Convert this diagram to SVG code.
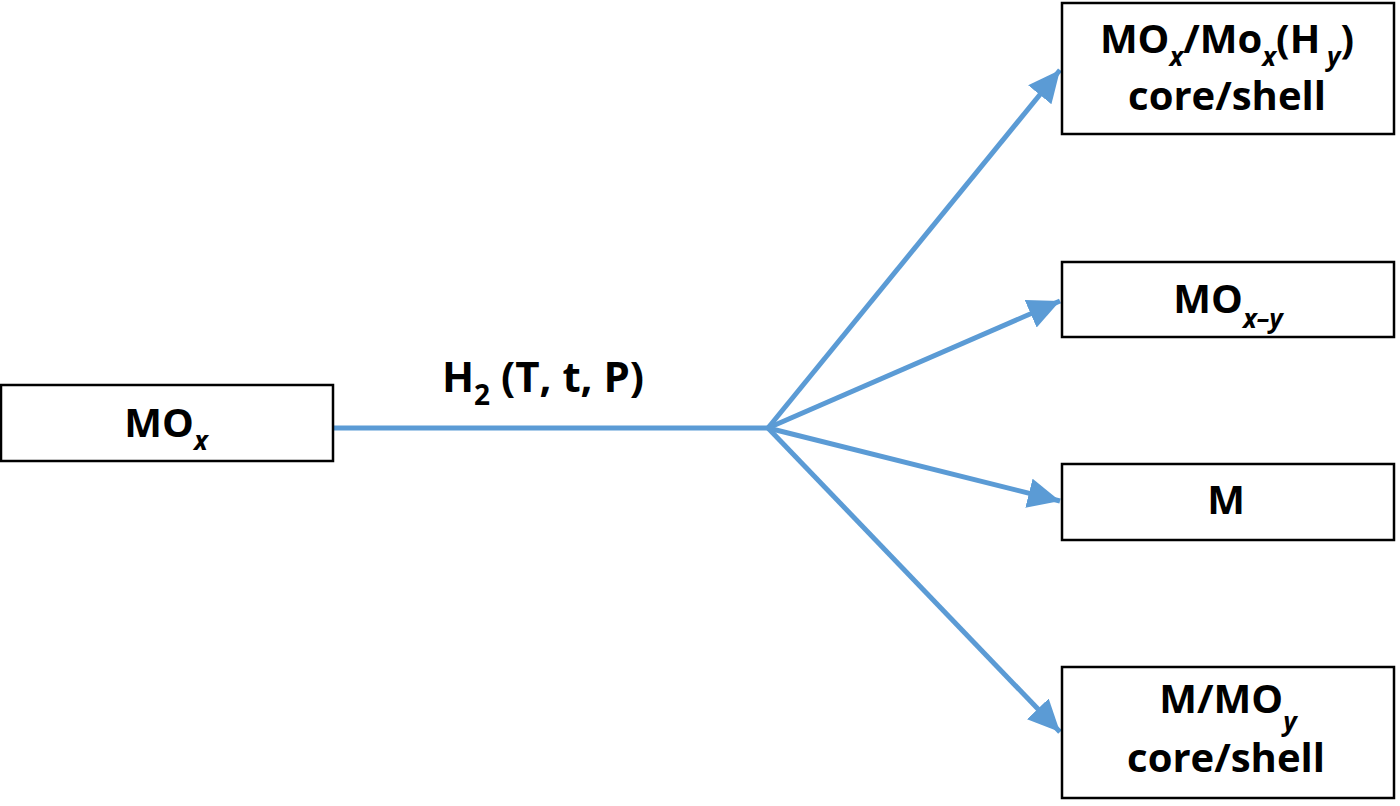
<svg xmlns="http://www.w3.org/2000/svg" width="1400" height="806" viewBox="0 0 1400 806">
<style>
.box{fill:#fff;stroke:#000;stroke-width:2.5}
.t{font-family:"Open Sans","Liberation Sans",sans-serif;font-weight:bold;font-size:40px;fill:#000;text-anchor:middle}
.lbl{font-size:42px}
.s{font-size:26px;font-style:italic}
.n{font-size:28px}
.c{stroke:#5B9BD5;stroke-width:5;fill:none}
</style>
<defs>
<marker id="ah" markerUnits="userSpaceOnUse" markerWidth="34" markerHeight="30" refX="32" refY="15" orient="auto">
<polygon points="0,0 32,15 0,30" fill="#5B9BD5"/>
</marker>
</defs>
<g id="connectors">
<line class="c" x1="333" y1="428" x2="768" y2="428"/>
<line class="c" x1="768" y1="428" x2="1060" y2="70" marker-end="url(#ah)"/>
<line class="c" x1="768" y1="428" x2="1060" y2="301" marker-end="url(#ah)"/>
<line class="c" x1="768" y1="428" x2="1060" y2="501" marker-end="url(#ah)"/>
<line class="c" x1="768" y1="428" x2="1060" y2="732" marker-end="url(#ah)"/>
<text class="t lbl" x="543" y="392">H<tspan class="n" dy="13">2</tspan><tspan dy="-13"> (T, t, P)</tspan></text>
</g>
<g id="n-mox">
<rect class="box" x="1" y="385" width="332" height="76"/>
<text class="t" x="166" y="437">MO<tspan class="s" dy="13">x</tspan></text>
</g>
<g id="n-coreshell1">
<rect class="box" x="1062" y="3" width="332" height="131"/>
<text class="t" x="1227" y="53">MO<tspan class="s" dy="13">x</tspan><tspan dy="-13">/Mo</tspan><tspan class="s" dy="13">x</tspan><tspan dy="-13">(H</tspan><tspan class="s" dy="13"> y</tspan><tspan dy="-13">)</tspan></text>
<text class="t" x="1227" y="110">core/shell</text>
</g>
<g id="n-moxy">
<rect class="box" x="1062" y="262" width="332" height="75"/>
<text class="t" x="1228" y="313">MO<tspan class="s" dy="15">x–y</tspan></text>
</g>
<g id="n-m">
<rect class="box" x="1062" y="464" width="332" height="76"/>
<text class="t" x="1226" y="514">M</text>
</g>
<g id="n-coreshell2">
<rect class="box" x="1062" y="667" width="332" height="131"/>
<text class="t" x="1228" y="713">M/MO<tspan class="s" dy="18">y</tspan></text>
<text class="t" x="1226" y="772">core/shell</text>
</g>
</svg>
